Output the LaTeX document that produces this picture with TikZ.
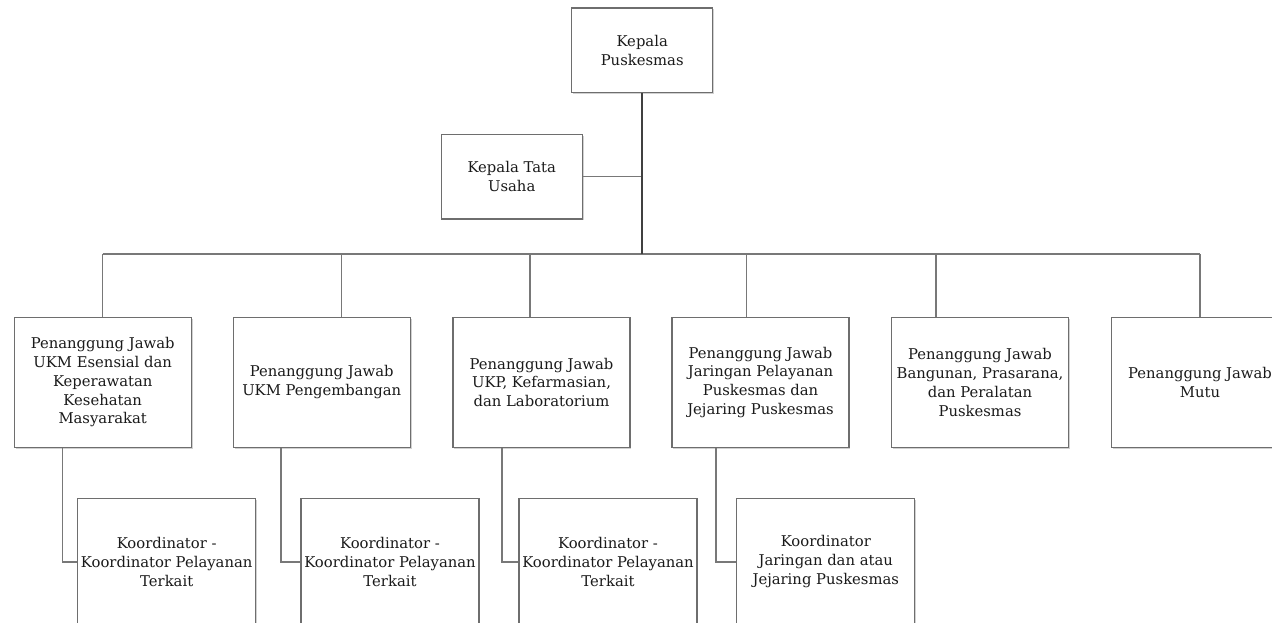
\documentclass[tikz,border=0pt]{standalone}
\usepackage{fontspec}
\setmainfont{DejaVu Serif}
\usetikzlibrary{shadows}
\definecolor{boxgray}{HTML}{6E6E6E}
\definecolor{linegray}{HTML}{787878}
\definecolor{trunkgray}{HTML}{404040}
\definecolor{textgray}{HTML}{1A1A1A}
\begin{document}
\begin{tikzpicture}[x=1pt,y=-1pt,
  box/.style={draw=boxgray, line width=1.3pt, fill=white, align=center,
    text=textgray, font=\fontsize{14.8}{18.8}\selectfont, inner sep=0pt,
    drop shadow={shadow xshift=1.3pt, shadow yshift=-1.3pt, fill=black, opacity=0.18}},
  topbox/.style={box, minimum width=141pt, minimum height=84.5pt},
  lvtwo/.style={box, minimum width=177pt, minimum height=130pt},
  lvthree/.style={box, minimum width=178pt, minimum height=127pt},
  link/.style={draw=linegray, line width=1.4pt},
  trunk/.style={draw=trunkgray, line width=2pt}]
\useasboundingbox (0,0) rectangle (1272,623);
\clip (0,0) rectangle (1272,623);

% top level
\node[topbox] (kp) at (642.2,50.2) {Kepala\\Puskesmas};
\node[topbox] (ktu) at (511.7,176.7) {Kepala Tata\\Usaha};

% second level
\node[lvtwo] (b1) at (102.7,382.3) {Penanggung Jawab\\UKM Esensial dan\\Keperawatan\\Kesehatan\\Masyarakat};
\node[lvtwo] (b2) at (321.7,382.3) {Penanggung Jawab\\UKM Pengembangan};
\node[lvtwo] (b3) at (541.5,382.3) {Penanggung Jawab\\UKP, Kefarmasian,\\dan Laboratorium};
\node[lvtwo] (b4) at (760.5,382.3) {Penanggung Jawab\\Jaringan Pelayanan\\Puskesmas dan\\Jejaring Puskesmas};
\node[lvtwo] (b5) at (980,382.3) {Penanggung Jawab\\Bangunan, Prasarana,\\dan Peralatan\\Puskesmas};
\node[lvtwo] (b6) at (1200,382.3) {Penanggung Jawab\\Mutu};

% third level
\node[lvthree] (c1) at (166.7,561.8) {Koordinator -\\Koordinator Pelayanan\\Terkait};
\node[lvthree] (c2) at (390,561.8) {Koordinator -\\Koordinator Pelayanan\\Terkait};
\node[lvthree] (c3) at (608,561.8) {Koordinator -\\Koordinator Pelayanan\\Terkait};
\node[lvthree] (c4) at (825.8,561.8) {Koordinator\\Jaringan dan atau\\Jejaring Puskesmas};

% bus coordinates
\coordinate (busL) at (102.7,254);
\coordinate (busR) at (1200,254);
\coordinate (busM) at (642.2,254);
\coordinate (d1) at (102.7,254);
\coordinate (d2) at (341.3,254);
\coordinate (d3) at (530,254);
\coordinate (d4) at (746.7,254);
\coordinate (d5) at (936,254);
\coordinate (d6) at (1200,254);
\coordinate (e1) at (62.7,447);
\coordinate (e2) at (281,447);
\coordinate (e3) at (502,447);
\coordinate (e4) at (716,447);

% connectors
\draw[link] (busL) -- (busR);
\draw[link] (ktu.east) -- (ktu.east -| kp.south);
\draw[trunk] (kp.south) -- (busM);
\foreach \i in {1,...,6} {\draw[link] (d\i) -- (d\i |- b\i.north);}
\foreach \i in {1,...,4} {\draw[link] (e\i |- b\i.south) |- (c\i.west);}
\end{tikzpicture}
\end{document}
